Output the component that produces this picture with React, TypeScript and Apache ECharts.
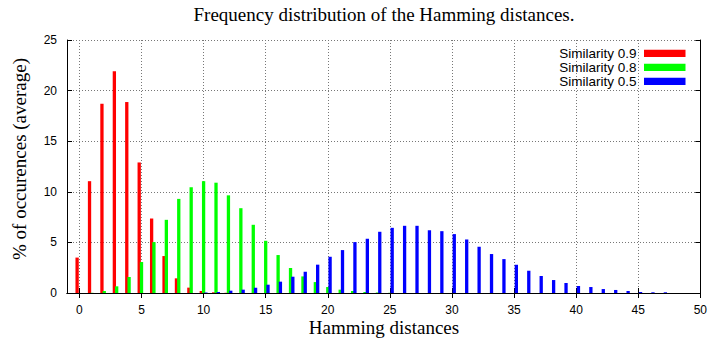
import React, { useEffect, useRef } from "react";
import * as echarts from "echarts";

// Hamming distances shown on the axis (-1 .. 50)
const distances: number[] = [];
for (let d = -1; d <= 50; d++) distances.push(d);

// Values for distance 0, 1, 2, ...
const sim09: number[] = [3.5, 11.05, 18.7, 21.9, 18.87, 12.9, 7.36, 3.65, 1.45, 0.53, 0.2, 0.07, 0.02];
const sim08: number[] = [0, 0.02, 0.2, 0.66, 1.58, 3.06, 5.03, 7.23, 9.3, 10.45, 11.05, 10.9, 9.65, 8.38, 6.74, 5.16, 3.75, 2.47, 1.64, 1.08, 0.59, 0.33, 0.2, 0.1, 0.05, 0.02];
const sim05: number[] = [0, 0, 0, 0, 0, 0, 0, 0, 0, 0, 0.05, 0.1, 0.23, 0.33, 0.53, 0.82, 1.12, 1.61, 2.1, 2.8, 3.58, 4.24, 5.03, 5.36, 6.05, 6.44, 6.64, 6.64, 6.2, 6.11, 5.82, 5.29, 4.57, 3.85, 3.35, 2.79, 2.2, 1.68, 1.28, 0.99, 0.69, 0.59, 0.39, 0.3, 0.2, 0.1, 0.07, 0.07];

const seriesNames = ["Similarity 0.9", "Similarity 0.8", "Similarity 0.5"];
const seriesColors = ["#ff0000", "#00ff00", "#0000ff"];
const yTicks = [0, 5, 10, 15, 20, 25];

const toCategoryData = (vals: number[]) =>
  distances.map((d) => (d >= 0 && d < vals.length ? vals[d] : null));

const majorTick = (_i: number, v: string) => {
  const n = Number(v);
  return n >= 0 && n % 5 === 0;
};

export default function App() {
  const ref = useRef<HTMLDivElement>(null);
  useEffect(() => {
    if (!ref.current) return;
    const chart = echarts.init(ref.current, null, { renderer: "svg" });
    const sans = "Liberation Sans";
    const serif = "Liberation Serif";
    const grid = { left: 67, right: 9, top: 40, bottom: 47 };
    const allVals = [sim09, sim08, sim05];
    chart.setOption({
      animation: false,
      backgroundColor: "#fff",
      grid,
      title: {
        text: "Frequency distribution of the Hamming distances.",
        left: 384,
        top: 4,
        padding: 0,
        textAlign: "center",
        textStyle: { fontFamily: serif, fontSize: 19, fontWeight: "normal", color: "#000", lineHeight: 20 },
      },
      legend: {
        orient: "vertical",
        right: 24.5,
        top: 46.3,
        padding: 0,
        align: "right",
        icon: "rect",
        itemWidth: 41.5,
        itemHeight: 7.3,
        itemGap: 0,
        data: seriesNames,
        textStyle: { fontFamily: sans, fontSize: 13.5, color: "#000", lineHeight: 13.6, padding: [0, 2.5, 0, 0] },
      },
      xAxis: [
        {
          type: "category",
          data: distances.map(String),
          boundaryGap: false,
          axisLine: { lineStyle: { color: "#000", width: 1 } },
          axisTick: { inside: true, length: 5, interval: majorTick, lineStyle: { color: "#000" } },
          axisLabel: {
            interval: majorTick,
            fontFamily: sans,
            fontSize: 12,
            color: "#000",
            margin: 11,
          },
          splitLine: {
            show: true,
            interval: majorTick,
            lineStyle: { color: "#777", type: [1, 2], width: 1 },
          },
        },
        {
          type: "category",
          position: "top",
          data: distances.map(String),
          boundaryGap: false,
          axisLine: { lineStyle: { color: "#000", width: 1 } },
          axisTick: { inside: true, length: 5, interval: majorTick, lineStyle: { color: "#000" } },
          axisLabel: { show: false },
          splitLine: { show: false },
        },
      ],
      yAxis: [
        {
          type: "value",
          min: yTicks[0],
          max: yTicks[yTicks.length - 1],
          interval: 5,
          axisLine: { show: true, lineStyle: { color: "#000", width: 1 } },
          axisTick: { show: true, inside: true, length: 5, lineStyle: { color: "#000" } },
          axisLabel: { fontFamily: sans, fontSize: 12, color: "#000", margin: 10 },
          splitLine: { show: true, lineStyle: { color: "#777", type: [1, 2], width: 1 } },
        },
        {
          type: "value",
          position: "right",
          min: yTicks[0],
          max: yTicks[yTicks.length - 1],
          interval: 5,
          axisLine: { show: true, lineStyle: { color: "#000", width: 1 } },
          axisTick: { show: true, inside: true, length: 5, lineStyle: { color: "#000" } },
          axisLabel: { show: false },
          splitLine: { show: false },
        },
      ],
      series: seriesNames.map((name, i) => ({
        name,
        type: "bar",
        xAxisIndex: 0,
        yAxisIndex: 0,
        data: toCategoryData(allVals[i]),
        barWidth: 3.3,
        barGap: "-30%",
        itemStyle: { color: seriesColors[i] },
        z: 3 + i,
      })),
      graphic: [
        {
          type: "text",
          x: 19,
          y: 159,
          rotation: Math.PI / 2,
          style: {
            text: "% of occurences (average)",
            fontFamily: serif,
            fontSize: 19,
            fill: "#000",
            align: "center",
            verticalAlign: "middle",
          },
        },
        {
          type: "text",
          x: 384,
          y: 327,
          style: {
            text: "Hamming distances",
            fontFamily: serif,
            fontSize: 19,
            fill: "#000",
            align: "center",
            verticalAlign: "middle",
          },
        },
      ],
    });
    return () => chart.dispose();
  }, []);
  return (
    <div
      ref={ref}
      style={{ position: "fixed", left: 0, top: 0, width: 710, height: 340, background: "#fff" }}
    />
  );
}
